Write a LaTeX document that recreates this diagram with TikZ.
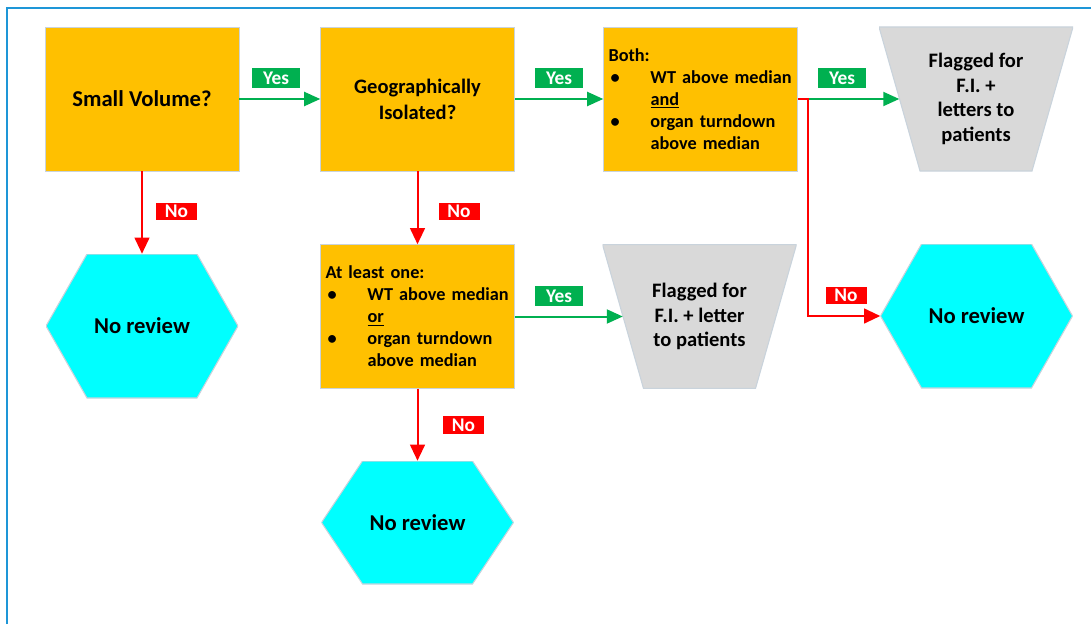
\documentclass[tikz,border=0pt]{standalone}
\usepackage{fontspec}
\setmainfont{Carlito}
\usetikzlibrary{arrows.meta}
\definecolor{boxorange}{HTML}{FFC000}
\definecolor{hexcyan}{HTML}{00FFFF}
\definecolor{flaggray}{HTML}{D9D9D9}
\definecolor{taggreen}{HTML}{00B050}
\definecolor{edgegray}{HTML}{C9D3DC}
\definecolor{frameblue}{RGB}{30,150,215}
\newcommand{\listdot}{\makebox[31.5pt][l]{\hspace*{1.5pt}\textbullet}}
\newcommand{\listgap}{\hspace*{31.5pt}}

\begin{document}
\begin{tikzpicture}[x=0.75pt,y=-0.75pt,
  qbox/.style={rectangle, fill=boxorange, draw=edgegray, line width=0.4pt, minimum width=145.5pt, minimum height=108pt, inner sep=3.75pt, align=center, font=\bfseries\fontsize{15.4}{19.5}\selectfont},
  listbox/.style={qbox, text width=138pt, align=left, font=\bfseries\fontsize{13.7}{16.5}\selectfont},
  hexbox/.style={rectangle, minimum width=144pt, minimum height=#1, inner sep=0pt, font=\bfseries\fontsize{17}{20}\selectfont,
    path picture={\filldraw[fill=hexcyan, draw=edgegray, line width=0.8pt] (path picture bounding box.west) -- ([xshift=30.75pt]path picture bounding box.north west) -- ([xshift=-30.75pt]path picture bounding box.north east) -- (path picture bounding box.east) -- ([xshift=-30.75pt]path picture bounding box.south east) -- ([xshift=30.75pt]path picture bounding box.south west) -- cycle;}},
  hexbox/.default=108pt,
  flagbox/.style={rectangle, minimum width=145.5pt, minimum height=108pt, inner sep=0pt, align=center, font=\bfseries\fontsize{15.4}{18.4}\selectfont,
    path picture={\filldraw[fill=flaggray, draw=edgegray, line width=0.8pt] (path picture bounding box.north west) -- (path picture bounding box.north east) -- ([xshift=-30.75pt]path picture bounding box.south east) -- ([xshift=30.75pt]path picture bounding box.south west) -- cycle;}},
  yesline/.style={draw=taggreen, line width=1.5pt, -{Triangle[length=12pt,width=10.5pt]}},
  noline/.style={draw=red, line width=1.5pt, -{Triangle[length=12pt,width=11pt]}},
  yestag/.style={rectangle, fill=taggreen, text=white, minimum width=36pt, minimum height=15pt, inner sep=0pt, font=\bfseries\fontsize{14.5}{16}\selectfont},
  notag/.style={yestag, fill=red, minimum width=30.75pt, minimum height=13pt}]
\useasboundingbox (0,0) rectangle (1091,624);
\draw[frameblue, line width=1.5pt] (7,624) -- (7,8) -- (1091,8);

\node[qbox, font=\bfseries\fontsize{17}{20}\selectfont] (sv) at (142,99) {Small Volume?};
\node[qbox] (geo) at (417.5,99) {Geographically\\Isolated?};
\node[listbox] (both) at (700.5,99) {Both:\\ \listdot WT above median\\ \listgap\underline{and}\\ \listdot organ turndown\\ \listgap above median};
\node[flagbox] (flag1) at (976,99) {Flagged for\\F.I. +\\letters to\\patients};

\node[hexbox] (hexL) at (142,326) {No review};
\node[listbox] (least) at (417.5,316.5) {At least one:\\ \listdot WT above median\\ \listgap\underline{or}\\ \listdot organ turndown\\ \listgap above median};
\node[flagbox] (flag2) at (699.5,316.5) {Flagged for\\F.I. + letter\\to patients};
\node[hexbox] (hexR) at (976.5,316) {No review};
\node[hexbox=92.25pt] (hexB) at (417.5,522.5) {No review};

\draw[yesline] (sv) -- (geo);
\draw[yesline] (geo) -- (both);
\draw[yesline] (both) -- ([xshift=15.4pt]flag1.west);
\draw[yesline] (least) -- ([xshift=15.4pt]flag2.west);
\draw[noline] (sv) -- (hexL);
\draw[noline] (geo) -- (least);
\draw[noline] (least) -- (hexB);
\draw[noline] (both.east) -- ++(10,0) |- (hexR);

\node[yestag] (yes1) at (276,78) {Yes};
\node[yestag] (yes2) at (559,78) {Yes};
\node[yestag] (yes3) at (842,78) {Yes};
\node[yestag] (yes4) at (559,296) {Yes};
\node[notag] (no1) at (176.5,211.5) {No};
\node[notag] (no2) at (459,211.5) {No};
\node[notag] (no3) at (463.5,425) {No};
\node[notag] (no4) at (846,295.5) {No};
\end{tikzpicture}
\end{document}
